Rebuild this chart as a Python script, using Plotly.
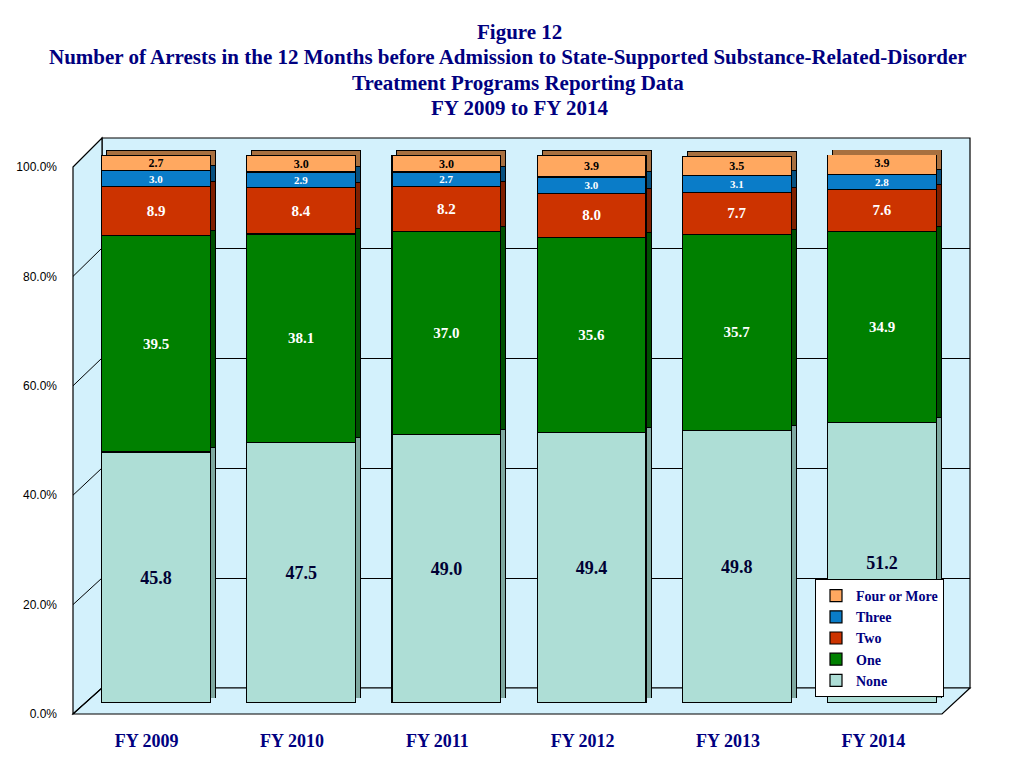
import plotly.graph_objects as go

# ---- data ----
years = ["FY 2009", "FY 2010", "FY 2011", "FY 2012", "FY 2013", "FY 2014"]
none_vals = [45.8, 47.5, 49.0, 49.4, 49.8, 51.2]
one_vals = [39.5, 38.1, 37.0, 35.6, 35.7, 34.9]
two_vals = [8.9, 8.4, 8.2, 8.0, 7.7, 7.6]
three_vals = [3.0, 2.9, 2.7, 3.0, 3.1, 2.8]
four_vals = [2.7, 3.0, 3.0, 3.9, 3.5, 3.9]
series_names = ["None", "One", "Two", "Three", "Four or More"]
y_ticks = [0, 20, 40, 60, 80, 100]
y_tick_labels = ["0.0%", "20.0%", "40.0%", "60.0%", "80.0%", "100.0%"]
title_lines = [
    "Figure 12",
    "Number of Arrests in the 12 Months before Admission to State-Supported Substance-Related-Disorder",
    "Treatment Programs Reporting Data",
    "FY 2009 to FY 2014",
]

W, H = 1024, 768
OFF = 8  # page body margin offset
def px(x):
    return (x - OFF) / W
def py(y):
    return 1 - (y - OFF) / H

series = [none_vals, one_vals, two_vals, three_vals, four_vals]
face_colors = ["#AEDED6", "#008000", "#CC3300", "#0A7CC8", "#FFA860"]
side_colors = ["#7FA8A0", "#004F00", "#7F2000", "#06507F", "#A8703F"]
text_colors = ["#000033", "#FFFFFF", "#FFFFFF", "#FFFFFF", "#000000"]
text_sizes = [18, 15, 15, 11, 12]
legend_rank = [5, 4, 3, 2, 1]
SERIF = "Liberation Serif"
NAVY = "#000080"

fig = go.Figure()

fig.add_trace(go.Scatter(x=years, y=[0] * len(years), mode="markers",
                         marker=dict(opacity=0), showlegend=False,
                         hoverinfo="skip", xaxis="x", yaxis="y"))
fig.add_trace(go.Scatter(x=years, y=[0] * len(years), mode="markers",
                         marker=dict(opacity=0), showlegend=False,
                         hoverinfo="skip", xaxis="x2", yaxis="y2"))
for vals, c in zip(series, side_colors):
    fig.add_trace(go.Bar(x=years, y=vals, marker=dict(color=c, line=dict(color="#000000", width=1)),
                         showlegend=False, hoverinfo="skip", xaxis="x3", yaxis="y3"))
for i, (vals, name) in enumerate(zip(series, series_names)):
    fig.add_trace(go.Bar(
        x=years, y=vals, name=name,
        marker=dict(color=face_colors[i], line=dict(color="#000000", width=1.2)),
        text=[f"{v:.1f}" for v in vals], textposition="inside",
        insidetextanchor="middle", constraintext="none",
        textfont=dict(family=SERIF, size=text_sizes[i], color=text_colors[i], weight="bold"),
        legendgroup=name, legendrank=legend_rank[i], xaxis="x4", yaxis="y4"))

FL, FR, FB, FT = 73, 942, 714, 167
BL, BR, BB, BT = 102, 970, 688, 138
d = 5
cat_range = [-0.5, len(years) - 0.5]

hidden = dict(showgrid=False, zeroline=False, showticklabels=False, showline=False,
              ticks="", automargin=False)
layout = dict(
    width=W, height=H,
    margin=dict(l=0, r=0, t=0, b=0, autoexpand=False),
    paper_bgcolor="#FFFFFF", plot_bgcolor="rgba(0,0,0,0)",
    barmode="stack", bargap=0.25,
    showlegend=True,
    xaxis=dict(domain=[px(BL), px(BR)], range=cat_range, **hidden),
    yaxis=dict(domain=[py(BB), py(BT)], range=[0, 100], showgrid=True, dtick=20,
               gridcolor="#000000", gridwidth=1, zeroline=False, showticklabels=False,
               ticks="", automargin=False),
    xaxis2=dict(domain=[px(74), px(946)], anchor="y2", range=cat_range, showgrid=False,
                zeroline=False, showline=False, ticks="", ticklabelstandoff=14, automargin=False,
                tickfont=dict(family=SERIF, size=18, color=NAVY, weight="bold")),
    yaxis2=dict(domain=[py(FB), py(FT)], anchor="x2", range=[0, 100], showgrid=False,
                zeroline=False, showline=False, ticks="", tickvals=y_ticks, ticktext=y_tick_labels,
                ticklabelstandoff=16, automargin=False,
                tickfont=dict(family="Liberation Sans", size=12, color="#000000")),
    xaxis3=dict(domain=[px(83.4 + d), px(954.6 + d)], anchor="y3", range=cat_range, **hidden),
    yaxis3=dict(domain=[py(703 - d), py(155 - d)], anchor="x3", range=[0, 100], **hidden),
    xaxis4=dict(domain=[px(83.4), px(954.6)], anchor="y4", range=cat_range, **hidden),
    yaxis4=dict(domain=[py(703), py(155)], anchor="x4", range=[0, 100], **hidden),
    legend=dict(x=px(815), y=py(579), xanchor="left", yanchor="top",
                bgcolor="#FFFFFF", bordercolor="#000000", borderwidth=1,
                traceorder="normal", tracegroupgap=5,
                font=dict(family=SERIF, size=14, color=NAVY, weight="bold")),
)
fig.update_layout(**layout)

WALL = "#D3F1FC"
def path(pts):
    return "M " + " L ".join(f"{px(x)},{py(y)}" for x, y in pts) + " Z"

shapes = []
shapes.append(dict(type="path", xref="paper", yref="paper", layer="below",
                   path=path([(BL, BT), (BR, BT), (BR, BB), (BL, BB)]),
                   fillcolor=WALL, line=dict(color="#000000", width=1.2)))
shapes.append(dict(type="path", xref="paper", yref="paper", layer="below",
                   path=path([(FL, FT), (BL, BT), (BL, BB), (FL, FB)]),
                   fillcolor=WALL, line=dict(color="#000000", width=1.2)))
shapes.append(dict(type="path", xref="paper", yref="paper", layer="below",
                   path=path([(FL, FB), (FR, FB), (BR, BB), (BL, BB)]),
                   fillcolor=WALL, line=dict(color="#000000", width=1.2)))
for t in y_ticks:
    fy = FB - (FB - FT) * t / 100
    by = BB - (BB - BT) * t / 100
    shapes.append(dict(type="line", xref="paper", yref="paper", layer="below",
                       x0=px(FL), y0=py(fy), x1=px(BL), y1=py(by),
                       line=dict(color="#000000", width=1)))
fig.update_layout(shapes=shapes)

title_x = [519, 508, 518, 519]
ann = []
for i, line in enumerate(title_lines):
    ann.append(dict(text=line, xref="paper", yref="paper", x=px(title_x[i]), y=py(32 + 25.3 * i),
                    xanchor="center", yanchor="middle", showarrow=False,
                    font=dict(family=SERIF, size=21, color=NAVY, weight="bold")))
fig.update_layout(annotations=ann)

fig.write_html("out.html")
